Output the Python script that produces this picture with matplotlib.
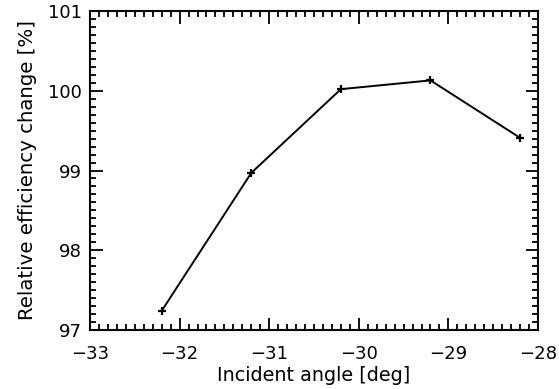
import matplotlib
matplotlib.use("Agg")
import matplotlib.pyplot as plt
from matplotlib.ticker import MultipleLocator, FuncFormatter

# data
angle = [-32.2, -31.2, -30.2, -29.2, -28.2]
eff_change = [97.24, 98.97, 100.02, 100.13, 99.41]

plt.rcParams['font.family'] = ['DejaVu Sans']

fig = plt.figure(figsize=(5.59, 3.89), dpi=100)
ax = fig.add_axes([90/559, 59/389, 448/559, 319/389])

ax.plot(angle, eff_change, color='black', linewidth=1.4,
        marker='+', markersize=6, markeredgewidth=1.6)

ax.set_xlim(-33, -28)
ax.set_ylim(97, 101)
ax.xaxis.set_major_locator(MultipleLocator(1))
ax.xaxis.set_minor_locator(MultipleLocator(0.1))
ax.yaxis.set_major_locator(MultipleLocator(1))
ax.yaxis.set_minor_locator(MultipleLocator(0.1))
ax.xaxis.set_major_formatter(FuncFormatter(lambda v, p: f"{v:.0f}".replace('-', '\u2212')))

ax.tick_params(which='both', direction='in', top=True, right=True, width=1.3,
               labelsize=13, colors='black')
ax.tick_params(which='major', length=9)
ax.tick_params(axis='x', which='major', pad=11)
ax.tick_params(axis='y', which='major', pad=6)
ax.tick_params(which='minor', length=4.5)
for s in ax.spines.values():
    s.set_linewidth(1.5)

ax.set_xlabel("Incident angle [deg]", fontsize=13.8, labelpad=2)
ax.set_ylabel("Relative efficiency change [%]", fontsize=14.2, labelpad=8)

fig.savefig("out.png", dpi=100)
